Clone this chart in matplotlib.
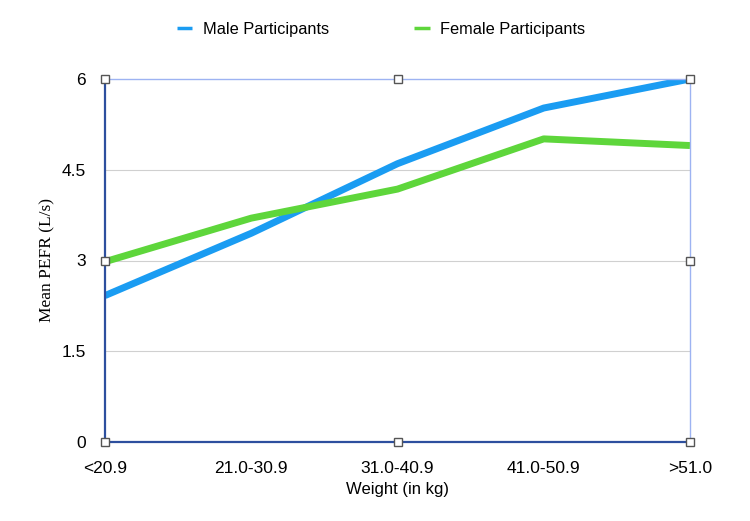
import matplotlib.pyplot as plt

weights = ['<20.9', '21.0-30.9', '31.0-40.9', '41.0-50.9', '>51.0']
male = [2.42, 3.45, 4.6, 5.52, 6.0]
female = [2.98, 3.7, 4.18, 5.01, 4.9]
yticks = [0, 1.5, 3, 4.5, 6]

plt.rcParams['font.family'] = ['Liberation Sans', 'DejaVu Sans']

fig = plt.figure(figsize=(7.5, 5.21), dpi=100)
ax = fig.add_axes([0.14, 0.1516, 0.78, 0.6968])

x = range(len(weights))
ax.plot(x, male, color='#1a9cf2', lw=5.0, label='Male Participants', solid_capstyle='butt')
ax.plot(x, female, color='#5ed63b', lw=5.0, label='Female Participants', solid_capstyle='butt')

ax.set_xlim(0, len(weights) - 1)
ax.set_ylim(0, 6)
ax.set_yticks(yticks)
ax.set_yticklabels(['0', '1.5', '3', '4.5', '6'])
ax.set_xticks(list(x))
ax.set_xticklabels(weights)
ax.tick_params(length=0, labelsize=12.5, pad=14)
ax.tick_params(axis='y', pad=14)
for yv in yticks[1:-1]:
    ax.axhline(yv, color='#d0d0d0', lw=0.8, zorder=0)

ax.spines['left'].set_color('#2d4f9e')
ax.spines['bottom'].set_color('#2d4f9e')
ax.spines['left'].set_linewidth(1.6)
ax.spines['bottom'].set_linewidth(1.6)
ax.spines['top'].set_color('#9db3f2')
ax.spines['right'].set_color('#9db3f2')
ax.spines['top'].set_linewidth(1.0)
ax.spines['right'].set_linewidth(1.0)

# selection handles
hx = [0, 0.5, 1, 0, 1, 0, 0.5, 1]
hy = [1, 1, 1, 0.5, 0.5, 0, 0, 0]
ax.plot(hx, hy, 's', transform=ax.transAxes, ms=6, mfc='white', mec='#555555',
        mew=1.0, clip_on=False, zorder=5)

ax.set_xlabel('Weight (in kg)', fontsize=12, labelpad=4)
ax.set_ylabel('Mean PEFR (L/s)', fontsize=12.5, family='Liberation Serif', labelpad=4)

leg = fig.legend(loc='center', bbox_to_anchor=(0.508, 0.944), ncol=2, frameon=False,
                 fontsize=11.8, handlelength=0.95, columnspacing=5.2, handletextpad=0.65)
for h in leg.get_lines():
    h.set_linewidth(2.5)

fig.savefig('out.png', dpi=100)
